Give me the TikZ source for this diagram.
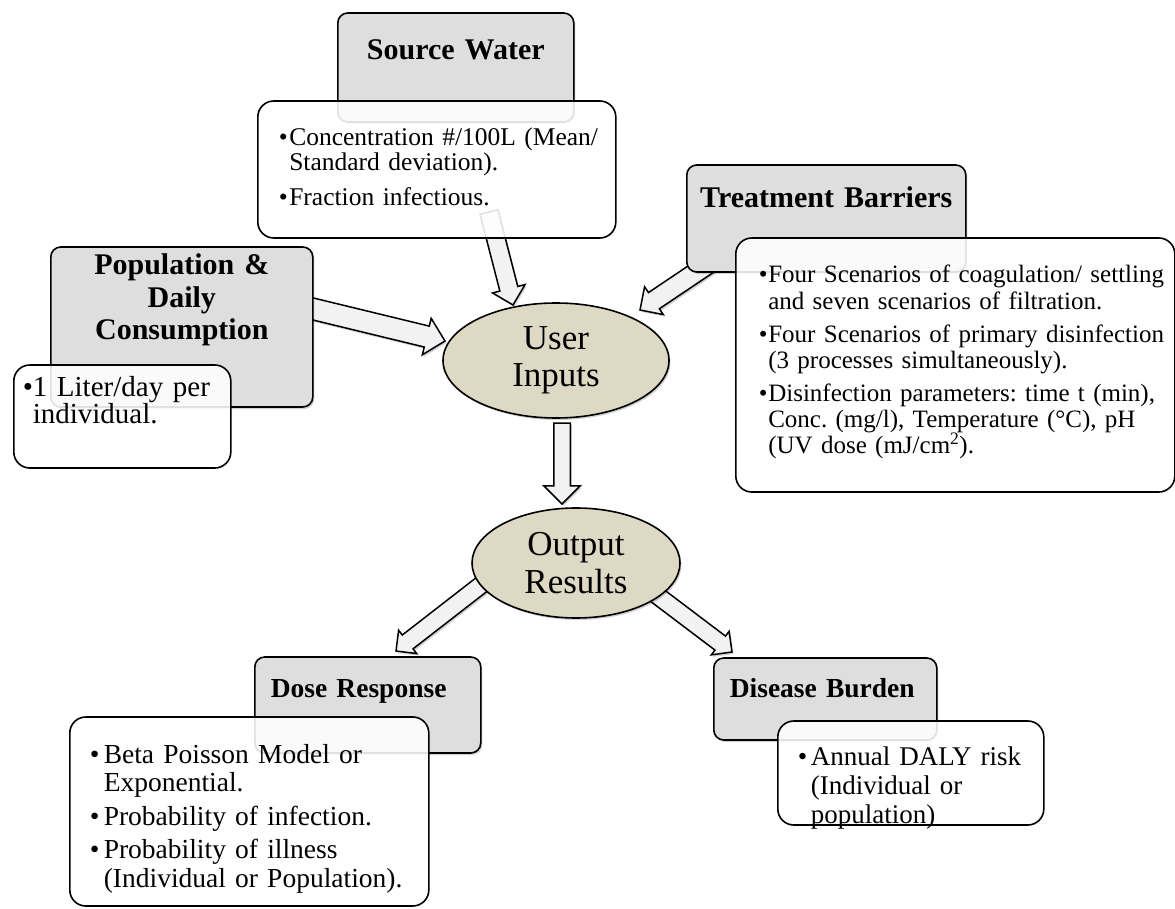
\documentclass[tikz,border=0pt]{standalone}
\usepackage{fontspec}
\setmainfont{Liberation Serif}
\usetikzlibrary{shapes.geometric,shapes.arrows,calc,shadows}
\frenchspacing

\definecolor{boxgray}{RGB}{222,222,222}
\definecolor{ovalfill}{RGB}{221,217,196}
\definecolor{arrowfill}{RGB}{242,242,242}

% bullet item with hanging indent
\newcommand\bitem[2]{\hangindent=#1\hangafter=1\noindent\makebox[#1][l]{\textbullet}#2\par}

% hollow block arrow from one point to another
\newcommand\fatarrow[3][]{%
  \path let \p1=(#2), \p2=(#3), \n1={atan2(\y2-\y1,\x2-\x1)}, \n2={veclen(\x2-\x1,\y2-\y1)} in
    node[blockarrow, #1, rotate=\n1, minimum height=\n2, anchor=tail] at (\p1) {};}

\tikzset{
  shadowed/.style={drop shadow={shadow xshift=1.5pt, shadow yshift=-2pt, opacity=.18, fill=black}},
  graybox/.style={draw, line width=1.6pt, fill=boxgray, rounded corners=10pt, inner xsep=0pt, inner ysep=0pt,
    font=\fontsize{30}{32.5}\selectfont\bfseries, anchor=base west, shadowed},
  notebox/.style={draw, line width=1.6pt, fill=white, fill opacity=.88, text opacity=1, rounded corners=16pt,
    inner sep=0pt, align=left, anchor=base west},
  oval/.style={ellipse, draw, line width=1.6pt, fill=ovalfill, inner sep=0pt, align=center,
    font=\fontsize{35}{37.5}\selectfont, shadowed},
  blockarrow/.style={single arrow, draw, fill=arrowfill, line width=1.5pt, inner xsep=0pt,
    single arrow tip angle=90, outer sep=0pt, shadowed},
  arrowsize/.style 2 args={inner ysep=#1, single arrow head extend=#2},
}

\begin{document}
\begin{tikzpicture}[x=1pt,y=-1pt]

\path[use as bounding box, fill=white] (0,0) rectangle (1175,909);

% arrow ends
\coordinate (srctail) at (489,212);
\coordinate (srctip) at (513,305);
\coordinate (poptail) at (305,307);
\coordinate (poptip) at (445,341);
\coordinate (trttail) at (710,263);
\coordinate (trttip) at (640,310);
\coordinate (uitail) at (562,423);
\coordinate (ortip) at (562,504);
\coordinate (dosetail) at (490,578);
\coordinate (dosetip) at (396,651);
\coordinate (distail) at (650,590);
\coordinate (distip) at (732,652);

\fatarrow[arrowsize={8.5pt}{7.5pt}]{srctail}{srctip}
\fatarrow[arrowsize={10pt}{8pt}]{poptail}{poptip}
\fatarrow[arrowsize={9pt}{7pt}]{trttail}{trttip}
\fatarrow[arrowsize={7.5pt}{10pt}]{uitail}{ortip}
\fatarrow[arrowsize={8pt}{6pt}]{dosetail}{dosetip}
\fatarrow[arrowsize={8pt}{6pt}]{distail}{distip}

% headings
\node[graybox, text width=236pt, align=center, text height=47pt, text depth=62pt] (src) at (337,60) {Source Water};
\node[graybox, text width=279pt, align=center, text height=43pt, text depth=64pt] (trt) at (686,208) {Treatment Barriers};
\node[graybox, text width=262pt, align=center, text height=28pt, text depth=132pt] (pop) at (50,275) {Population \&\\Daily\\Consumption};
\node[graybox, inner xsep=16pt, text width=194pt, align=left, text height=40pt, text depth=56pt,
  font=\fontsize{27.5}{30}\selectfont\bfseries] (dose) at (254,697) {Dose Response};
\node[graybox, inner xsep=16pt, text width=191pt, align=left, text height=39pt, text depth=43pt,
  font=\fontsize{27.5}{30}\selectfont\bfseries] (dis) at (713,697) {Disease Burden};

% notes
\node[notebox, text width=358pt, text height=45pt, text depth=92pt, font=\fontsize{25.5}{22}\selectfont] (srcnote) at (257,146)
  {\setlength\leftskip{21pt}\setlength\parskip{11pt}%
   \bitem{10.5pt}{Concentration \#/100L (Mean/\newline Standard deviation).}%
   \bitem{10.5pt}{Fraction infectious.}};
\node[notebox, text width=439pt, text height=45pt, text depth=209pt, font=\fontsize{25}{26.3}\selectfont] (trtnote) at (735,283)
  {\setlength\leftskip{23pt}\setlength\parskip{6.5pt}%
   \bitem{9.5pt}{Four Scenarios of coagulation/ settling\newline and seven scenarios of filtration.}%
   \bitem{9.5pt}{Four Scenarios of primary disinfection\newline (3 processes simultaneously).}%
   \bitem{9.5pt}{Disinfection parameters: time t (min),\newline Conc. (mg/l), Temperature (°C), pH\newline (UV dose (mJ/cm\textsuperscript{2}).}};
\node[notebox, text width=217pt, text height=31pt, text depth=72pt, font=\fontsize{29}{26}\selectfont] (popnote) at (13,396)
  {\setlength\leftskip{9pt}%
   \bitem{10pt}{1 Liter/day per\newline individual.}};
\node[notebox, text width=359pt, text height=46pt, text depth=143pt, font=\fontsize{27.5}{28.5}\selectfont] (dosenote) at (69,763)
  {\setlength\leftskip{20pt}\setlength\parskip{5pt}%
   \bitem{14pt}{Beta Poisson Model or\newline Exponential.}%
   \bitem{14pt}{Probability of infection.}%
   \bitem{14pt}{Probability of illness\newline (Individual or Population).}};
\node[notebox, text width=266pt, text height=44pt, text depth=60pt, font=\fontsize{27}{29}\selectfont] (disnote) at (777,765)
  {\setlength\leftskip{20pt}%
   \bitem{13pt}{Annual DALY risk\newline (Individual or\newline population)}};

% centre ovals
\node[oval, minimum width=226pt, minimum height=115pt] (ui) at (556,360.5) {User\\Inputs};
\node[oval, minimum width=208pt, minimum height=110pt] (or) at (576,563) {Output\\Results};

\end{tikzpicture}
\end{document}
